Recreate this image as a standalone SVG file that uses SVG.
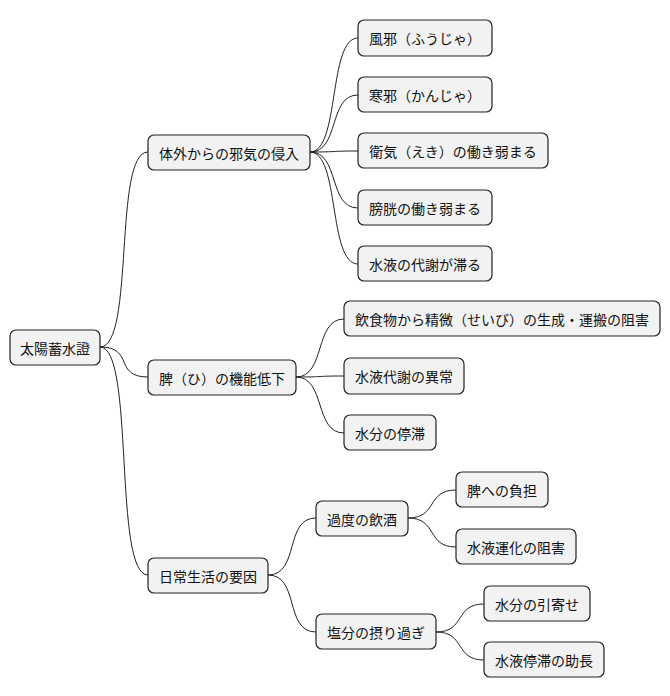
<svg xmlns="http://www.w3.org/2000/svg" width="670" height="696" viewBox="0 0 670 696">
<style>
.n rect{fill:#f2f2f2;stroke:#222;stroke-width:1.2}
.n text{font-family:"Noto Sans CJK JP","Liberation Sans",sans-serif;font-size:14px;fill:#111;dominant-baseline:central}
#edges path{fill:none;stroke:#222;stroke-width:1}
</style>
<rect width="670" height="696" fill="#fff"/>
<g id="edges">
<path d="M100,347 C135,347 113,152 148,152"/>
<path d="M100,347 C135,347 113,377 148,377"/>
<path d="M100,347 C135,347 113,575 148,575"/>
<path d="M310,152 C340,152 328,38 358,38"/>
<path d="M310,152 C340,152 328,95 358,95"/>
<path d="M310,152 C340,152 328,151 358,151"/>
<path d="M310,152 C340,152 328,208 358,208"/>
<path d="M310,152 C340,152 328,264 358,264"/>
<path d="M296,377 C326,377 314,319 344,319"/>
<path d="M296,377 C326,377 314,376 344,376"/>
<path d="M296,377 C326,377 314,433 344,433"/>
<path d="M268,575 C300,575 284,518 316,518"/>
<path d="M268,575 C300,575 284,632 316,632"/>
<path d="M408,518 C438,518 426,490 456,490"/>
<path d="M408,518 C438,518 426,547 456,547"/>
<path d="M436,632 C466,632 454,604 484,604"/>
<path d="M436,632 C466,632 454,660 484,660"/>
</g>
<g id="root" class="n"><rect x="10" y="330" width="90" height="35" rx="6"/><text x="55" y="347.5" text-anchor="middle">太陽蓄水證</text></g>
<g id="a" class="n"><rect x="148" y="135" width="162" height="35" rx="6"/><text x="229" y="152.5" text-anchor="middle">体外からの邪気の侵入</text></g>
<g id="a1" class="n"><rect x="358" y="20" width="134" height="36" rx="6"/><text x="425" y="38" text-anchor="middle">風邪（ふうじゃ）</text></g>
<g id="a2" class="n"><rect x="358" y="77" width="134" height="35" rx="6"/><text x="425" y="94.5" text-anchor="middle">寒邪（かんじゃ）</text></g>
<g id="a3" class="n"><rect x="358" y="133" width="190" height="35" rx="6"/><text x="453" y="150.5" text-anchor="middle">衛気（えき）の働き弱まる</text></g>
<g id="a4" class="n"><rect x="358" y="190" width="134" height="35" rx="6"/><text x="425" y="207.5" text-anchor="middle">膀胱の働き弱まる</text></g>
<g id="a5" class="n"><rect x="358" y="246" width="134" height="35" rx="6"/><text x="425" y="263.5" text-anchor="middle">水液の代謝が滞る</text></g>
<g id="b" class="n"><rect x="148" y="360" width="148" height="35" rx="6"/><text x="222" y="377.5" text-anchor="middle">脾（ひ）の機能低下</text></g>
<g id="b1" class="n"><rect x="344" y="301" width="316" height="35" rx="6"/><text x="502" y="318.5" text-anchor="middle">飲食物から精微（せいび）の生成・運搬の阻害</text></g>
<g id="b2" class="n"><rect x="344" y="358" width="120" height="36" rx="6"/><text x="404" y="376" text-anchor="middle">水液代謝の異常</text></g>
<g id="b3" class="n"><rect x="344" y="415" width="92" height="35" rx="6"/><text x="390" y="432.5" text-anchor="middle">水分の停滞</text></g>
<g id="c" class="n"><rect x="148" y="558" width="120" height="35" rx="6"/><text x="208" y="575.5" text-anchor="middle">日常生活の要因</text></g>
<g id="c1" class="n"><rect x="316" y="501" width="92" height="35" rx="6"/><text x="362" y="518.5" text-anchor="middle">過度の飲酒</text></g>
<g id="c11" class="n"><rect x="456" y="472" width="92" height="35" rx="6"/><text x="502" y="489.5" text-anchor="middle">脾への負担</text></g>
<g id="c12" class="n"><rect x="456" y="529" width="120" height="35" rx="6"/><text x="516" y="546.5" text-anchor="middle">水液運化の阻害</text></g>
<g id="c2" class="n"><rect x="316" y="614" width="120" height="35" rx="6"/><text x="376" y="631.5" text-anchor="middle">塩分の摂り過ぎ</text></g>
<g id="c21" class="n"><rect x="484" y="586" width="106" height="35" rx="6"/><text x="537" y="603.5" text-anchor="middle">水分の引寄せ</text></g>
<g id="c22" class="n"><rect x="484" y="642" width="120" height="35" rx="6"/><text x="544" y="659.5" text-anchor="middle">水液停滞の助長</text></g>
</svg>
